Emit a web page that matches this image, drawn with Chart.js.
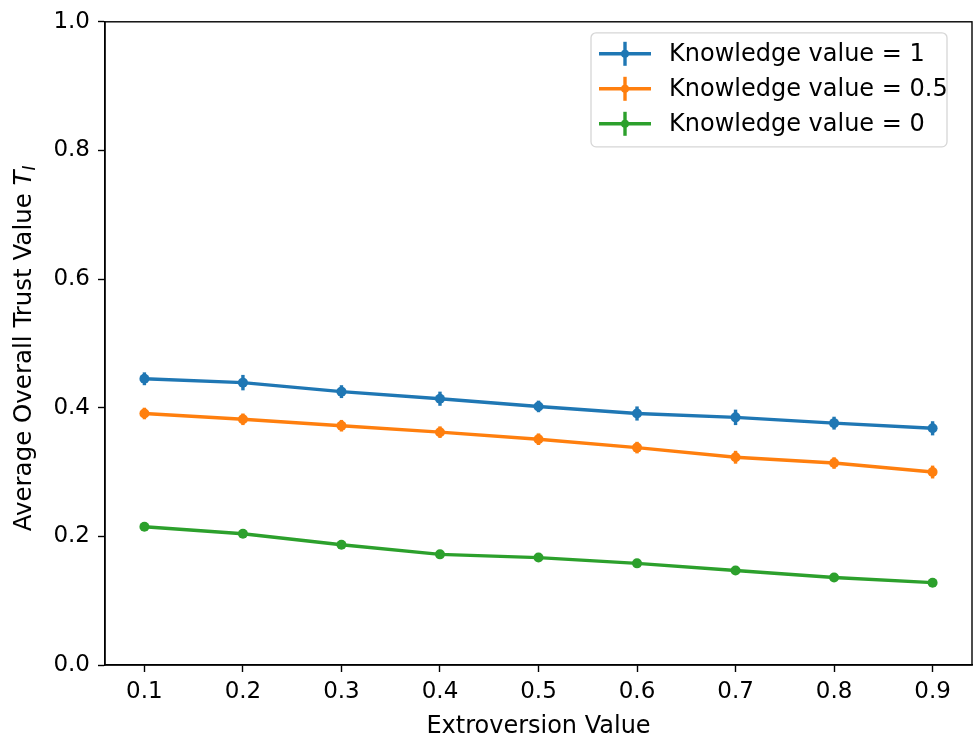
<!DOCTYPE html>
<html>
<head>
<meta charset="utf-8">
<script src="https://cdn.jsdelivr.net/npm/chart.js@4"></script>
<style>
  html, body { margin: 0; padding: 0; background: #fff; }
  #grafico { display: block; }
</style>
</head>
<body>
<canvas id="grafico" width="977" height="741"></canvas>
<script>
// dados
var extroversao = [0.1, 0.2, 0.3, 0.4, 0.5, 0.6, 0.7, 0.8, 0.9];
var rotulos = ['Knowledge value = 1', 'Knowledge value = 0.5', 'Knowledge value = 0'];
var conhecimento1 = [0.445, 0.439, 0.425, 0.414, 0.402, 0.391, 0.385, 0.376, 0.368];
var conhecimento05 = [0.391, 0.382, 0.372, 0.362, 0.351, 0.338, 0.323, 0.314, 0.300];
var conhecimento0 = [0.215, 0.204, 0.187, 0.172, 0.167, 0.158, 0.147, 0.136, 0.128];
var erro1 = [0.010, 0.012, 0.010, 0.011, 0.009, 0.011, 0.012, 0.010, 0.011];
var erro05 = [0.009, 0.009, 0.009, 0.009, 0.009, 0.009, 0.010, 0.009, 0.010];
var erro0 = [0.003, 0.003, 0.003, 0.003, 0.003, 0.003, 0.003, 0.003, 0.003];
var ticksX = [0.1, 0.2, 0.3, 0.4, 0.5, 0.6, 0.7, 0.8, 0.9];
var cores = ['#1f77b4', '#ff7f0e', '#2ca02c'];
var FONTE = '"DejaVu Sans", sans-serif';

function serie(valores, erros, i) {
  return {
    label: rotulos[i],
    data: extroversao.map(function (x, k) { return { x: x, y: valores[k] }; }),
    erros: erros,
    borderColor: cores[i],
    backgroundColor: cores[i],
    borderWidth: 3.4,
    pointRadius: 5,
    pointHoverRadius: 5,
    pointBorderWidth: 0,
    tension: 0
  };
}

// barras de erro verticais, sem "cap"
var barrasErro = {
  id: 'barrasErro',
  beforeDatasetsDraw: function (chart) {
    var ctx = chart.ctx, y = chart.scales.y, x = chart.scales.x;
    chart.data.datasets.forEach(function (ds) {
      ctx.save();
      ctx.strokeStyle = ds.borderColor;
      ctx.lineWidth = 3.4;
      ds.data.forEach(function (p, k) {
        var e = ds.erros[k];
        var px = x.getPixelForValue(p.x);
        ctx.beginPath();
        ctx.moveTo(px, y.getPixelForValue(p.y - e));
        ctx.lineTo(px, y.getPixelForValue(p.y + e));
        ctx.stroke();
      });
      ctx.restore();
    });
  }
};

// moldura (spines de cima e da direita) + legenda + titulo do eixo y
var extras = {
  id: 'extras',
  afterDraw: function (chart) {
    var ctx = chart.ctx, a = chart.chartArea;
    ctx.save();
    ctx.strokeStyle = '#000';
    ctx.lineWidth = 1.4;
    ctx.strokeRect(a.left, a.top, a.right - a.left, a.bottom - a.top);

    // legenda
    var bx = a.right - 381, by = a.top + 11, bw = 356, bh = 114, r = 5;
    ctx.beginPath();
    ctx.moveTo(bx + r, by);
    ctx.arcTo(bx + bw, by, bx + bw, by + bh, r);
    ctx.arcTo(bx + bw, by + bh, bx, by + bh, r);
    ctx.arcTo(bx, by + bh, bx, by, r);
    ctx.arcTo(bx, by, bx + bw, by, r);
    ctx.closePath();
    ctx.fillStyle = 'rgba(255,255,255,0.8)';
    ctx.fill();
    ctx.strokeStyle = '#d6d6d6';
    ctx.lineWidth = 1.3;
    ctx.stroke();

    ctx.font = '24px ' + FONTE;
    ctx.textBaseline = 'middle';
    ctx.textAlign = 'left';
    chart.data.datasets.forEach(function (ds, i) {
      var cy = by + 21 + i * 35;
      var x0 = bx + 8, x1 = bx + 60, xm = (x0 + x1) / 2;
      ctx.strokeStyle = ds.borderColor;
      ctx.lineWidth = 3.4;
      ctx.beginPath(); ctx.moveTo(x0, cy); ctx.lineTo(x1, cy); ctx.stroke();
      ctx.beginPath(); ctx.moveTo(xm, cy - 12); ctx.lineTo(xm, cy + 12); ctx.stroke();
      ctx.fillStyle = ds.borderColor;
      ctx.beginPath(); ctx.arc(xm, cy, 4, 0, Math.PI * 2); ctx.fill();
      ctx.fillStyle = '#000';
      ctx.fillText(ds.label, bx + 78, cy + 1);
    });

    // titulo do eixo y com T_I em italico
    var parte1 = 'Average Overall Trust Value ';
    ctx.font = '24.5px ' + FONTE;
    var w1 = ctx.measureText(parte1).width;
    ctx.font = 'italic 24.5px ' + FONTE;
    var w2 = ctx.measureText('T').width;
    ctx.font = 'italic 17px ' + FONTE;
    var w3 = ctx.measureText('I').width;
    var total = w1 + w2 + w3;
    ctx.translate(22, (a.top + a.bottom) / 2 + 5);
    ctx.rotate(-Math.PI / 2);
    ctx.fillStyle = '#000';
    ctx.textBaseline = 'alphabetic';
    ctx.font = '24.5px ' + FONTE;
    ctx.fillText(parte1, -total / 2, 9);
    ctx.font = 'italic 24.5px ' + FONTE;
    ctx.fillText('T', -total / 2 + w1, 9);
    ctx.font = 'italic 17px ' + FONTE;
    ctx.fillText('I', -total / 2 + w1 + w2, 13);
    ctx.restore();
  }
};

new Chart(document.getElementById('grafico'), {
  type: 'line',
  data: {
    datasets: [
      serie(conhecimento1, erro1, 0),
      serie(conhecimento05, erro05, 1),
      serie(conhecimento0, erro0, 2)
    ]
  },
  options: {
    responsive: false,
    animation: false,
    layout: { padding: { top: 20, right: 4, left: 0, bottom: 0 } },
    plugins: { legend: { display: false }, tooltip: { enabled: false } },
    scales: {
      x: {
        type: 'linear',
        min: 0.06,
        max: 0.94,
        afterBuildTicks: function (s) { s.ticks = ticksX.map(function (v) { return { value: v }; }); },
        afterFit: function (s) { s.height = 76; },
        grid: { drawOnChartArea: false, drawTicks: true, tickLength: 7, tickWidth: 1.4, color: '#000' },
        border: { display: true, color: '#000', width: 1.4 },
        ticks: {
          color: '#000', padding: 6, maxRotation: 0,
          font: { family: FONTE, size: 23 },
          callback: function (v) { return v.toFixed(1); }
        },
        title: {
          display: true, text: 'Extroversion Value', color: '#000',
          font: { family: FONTE, size: 24 }, padding: { top: 2, bottom: 0 }
        }
      },
      y: {
        min: 0,
        max: 1,
        afterFit: function (s) { s.width = 105; },
        grid: { drawOnChartArea: false, drawTicks: true, tickLength: 7, tickWidth: 1.4, color: '#000' },
        border: { display: true, color: '#000', width: 1.4 },
        ticks: {
          stepSize: 0.2, color: '#000', padding: 8,
          font: { family: FONTE, size: 23 },
          callback: function (v) { return v.toFixed(1); }
        }
      }
    }
  },
  plugins: [barrasErro, extras]
});
</script>
</body>
</html>
